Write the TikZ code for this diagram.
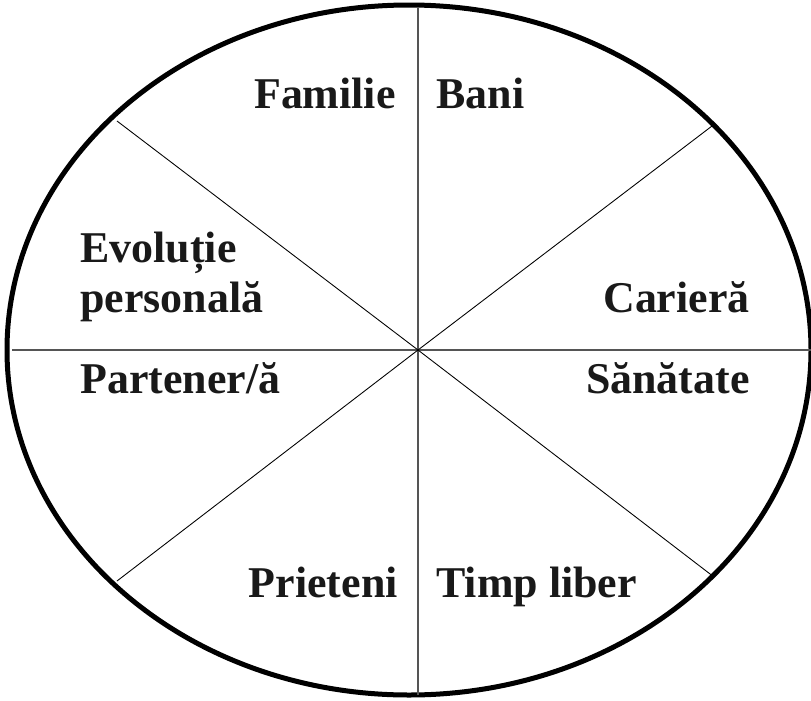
\documentclass[tikz,border=0pt]{standalone}
\usepackage{fontspec}
\setmainfont{Liberation Serif}
\usetikzlibrary{positioning}
\definecolor{rimBlack}{HTML}{000000}
\definecolor{spokeGray}{HTML}{555555}
\tikzset{
  rim/.style={draw=rimBlack, line width=0.1cm},
  spokeD/.style={draw=rimBlack, line width=0.5pt},
  spokeA/.style={draw=spokeGray, line width=0.7pt},
  areaLbl/.style={font=\bfseries\fontsize{25}{30}\selectfont, inner sep=0pt, text=black!90},
}
\begin{document}
\begin{tikzpicture}[x=0.02cm, y=-0.02cm]
    \useasboundingbox (0,0) rectangle (811,700);
    % wheel outline
    \draw[rim] (409,350) ellipse [x radius=402, y radius=345];
    \coordinate (c) at (418,350);
    \coordinate (top) at (418,8);
    \coordinate (bot) at (418,695);
    \coordinate (lft) at (12,350);
    \coordinate (rgt) at (811,350);
    \coordinate (ul) at (117,121);
    \coordinate (ur) at (712,126);
    \coordinate (ll) at (117,581);
    \coordinate (lr) at (714,577);
    \draw[spokeA] (c) -- (top);
    \draw[spokeA] (c) -- (bot);
    \draw[spokeA] (c) -- (lft);
    \draw[spokeA] (c) -- (rgt);
    \foreach \p in {ul, ur, ll, lr}
      \draw[spokeD] (c) -- (\p);
    % labels
    \node[areaLbl, anchor=base east] (fam) at (396,108) {Familie};
    \node[areaLbl, anchor=base west] (bani) at (436,108) {Bani};
    \node[areaLbl, anchor=base west] (evol) at (80,262) {Evoluție};
    \node[areaLbl, anchor=base west] (pers) at (80,312) {personală};
    \node[areaLbl, anchor=base east] (car) at (750,312) {Carieră};
    \node[areaLbl, anchor=base west] (part) at (80,393) {Partener/ă};
    \node[areaLbl, anchor=base east] (san) at (750,393) {Sănătate};
    \node[areaLbl, anchor=base east] (prie) at (398,597) {Prieteni};
    \node[areaLbl, anchor=base west] (timp) at (436,597) {Timp liber};
\end{tikzpicture}
\end{document}
